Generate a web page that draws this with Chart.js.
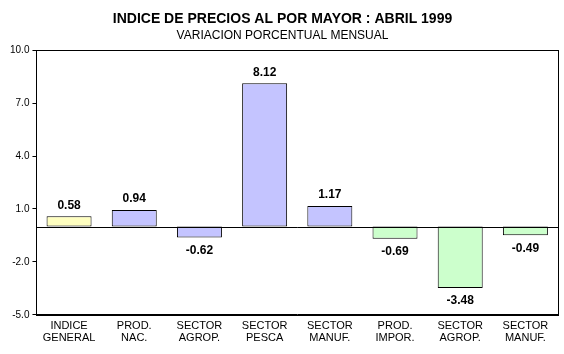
<!DOCTYPE html>
<html>
<head>
<meta charset="utf-8">
<script src="https://cdn.jsdelivr.net/npm/chart.js@4"></script>
<style>
  html, body { margin: 0; padding: 0; background: #ffffff; }
  #wrap { width: 564px; height: 354px; }
</style>
</head>
<body>
<div id="wrap"><canvas id="ipm-canvas"></canvas></div>
<script>
var categories = [
    ['INDICE', 'GENERAL'], ['PROD.', 'NAC.'], ['SECTOR', 'AGROP.'], ['SECTOR', 'PESCA'],
    ['SECTOR', 'MANUF.'], ['PROD.', 'IMPOR.'], ['SECTOR', 'AGROP.'], ['SECTOR', 'MANUF.']
];
var variation = [0.58, 0.94, -0.62, 8.12, 1.17, -0.69, -3.48, -0.49];
var barColors = ['#FFFFC0', '#C4C4FF', '#C4C4FF', '#C4C4FF', '#C4C4FF', '#CCFFCC', '#CCFFCC', '#CCFFCC'];
var yTicks = [-5, -2, 1, 4, 7, 10];

var frameAndLabels = {
    id: 'frameAndLabels',
    afterDatasetsDraw: function (chart) {
        var ctx = chart.ctx;
        var area = chart.chartArea;
        var y = chart.scales.y;
        ctx.save();
        ctx.strokeStyle = '#000';
        ctx.lineWidth = 1;
        // zero line
        var zy = Math.round(y.getPixelForValue(0)) + 0.5;
        ctx.beginPath();
        ctx.moveTo(area.left, zy);
        ctx.lineTo(area.right, zy);
        ctx.stroke();
        // plot frame
        ctx.strokeRect(Math.round(area.left) + 0.5, Math.round(area.top) + 0.5,
            Math.round(area.right - area.left), Math.round(area.bottom - area.top));
        // value labels
        ctx.fillStyle = '#000';
        ctx.font = 'bold 12px "Liberation Sans", Arial, sans-serif';
        ctx.textAlign = 'center';
        var meta = chart.getDatasetMeta(0);
        meta.data.forEach(function (bar, i) {
            var v = variation[i];
            if (v >= 0) {
                ctx.textBaseline = 'bottom';
                ctx.fillText(v.toFixed(2), bar.x, bar.y - 5);
            } else {
                ctx.textBaseline = 'top';
                ctx.fillText(v.toFixed(2), bar.x, bar.y + 7);
            }
        });
        ctx.restore();
    }
};

var ipmChart = new Chart(document.getElementById('ipm-canvas').getContext('2d'), {
    type: 'bar',
    data: {
        labels: categories,
        datasets: [{
            data: variation,
            backgroundColor: barColors,
            borderColor: '#000',
            borderWidth: 1,
            borderSkipped: false,
            barPercentage: 0.69,
            categoryPercentage: 1.0
        }]
    },
    options: {
        responsive: true,
        maintainAspectRatio: false,
        animation: false,
        layout: { padding: { left: 7, right: 6, top: 0, bottom: 13 } },
        plugins: {
            legend: { display: false },
            tooltip: { enabled: false },
            title: {
                display: true,
                text: 'INDICE DE PRECIOS AL POR MAYOR : ABRIL 1999',
                color: '#000',
                font: { family: '"Liberation Sans", Arial, sans-serif', size: 14, weight: 'bold' },
                padding: { top: 11, bottom: 1 }
            },
            subtitle: {
                display: true,
                text: 'VARIACION PORCENTUAL MENSUAL',
                color: '#000',
                font: { family: '"Liberation Sans", Arial, sans-serif', size: 12 },
                padding: { top: 0, bottom: 7 }
            }
        },
        scales: {
            y: {
                min: -5,
                max: 10,
                afterBuildTicks: function (axis) {
                    axis.ticks = yTicks.map(function (v) { return { value: v }; });
                },
                ticks: {
                    color: '#000',
                    padding: 3,
                    font: { family: '"Liberation Sans", Arial, sans-serif', size: 10 },
                    callback: function (v) { return Number(v).toFixed(1); }
                },
                grid: { drawOnChartArea: false, color: '#000', tickLength: 4 },
                border: { color: '#000' }
            },
            x: {
                ticks: {
                    color: '#000',
                    maxRotation: 0,
                    padding: -3,
                    font: { family: '"Liberation Sans", Arial, sans-serif', size: 11, lineHeight: 1.1 }
                },
                grid: { display: false },
                border: { color: '#000' }
            }
        }
    },
    plugins: [frameAndLabels]
});
</script>
</body>
</html>
